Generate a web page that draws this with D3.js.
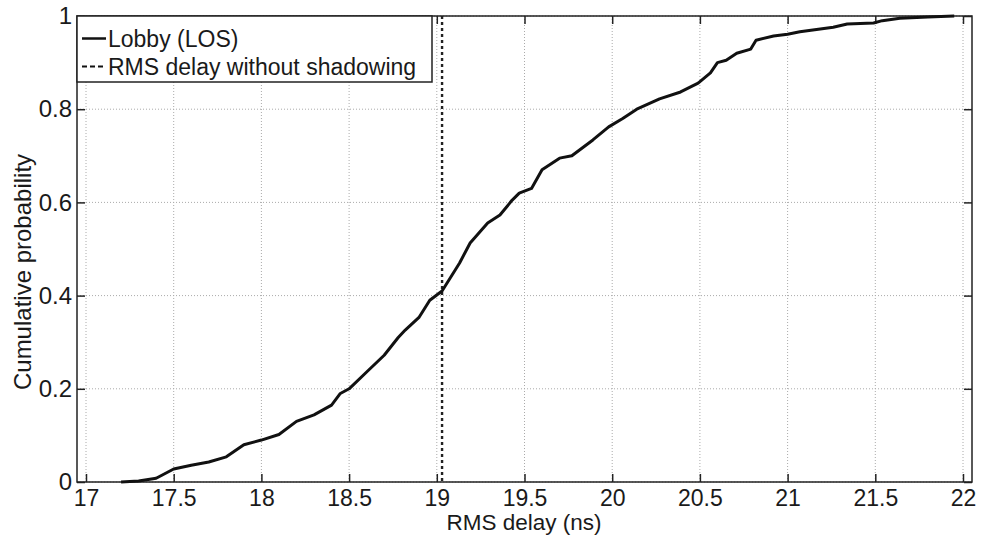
<!DOCTYPE html>
<html>
<head>
<meta charset="utf-8">
<script src="https://cdn.jsdelivr.net/npm/d3@7"></script>
<style>
  body { margin: 0; background: #fff; }
  svg { display: block; font-family: "Liberation Sans", Arial, sans-serif; }
</style>
</head>
<body>
<svg id="chart" width="981" height="535"></svg>
<script>
// CDF of RMS delay, lobby (LOS)
const delayNs = [17.2, 17.3, 17.4, 17.5, 17.6, 17.7, 17.8, 17.9, 18.0, 18.1, 18.2, 18.3, 18.4, 18.45,
  18.5, 18.6, 18.7, 18.78, 18.82, 18.9, 18.96, 19.03, 19.13, 19.19, 19.29, 19.36, 19.43, 19.47,
  19.54, 19.6, 19.7, 19.77, 19.89, 19.98, 20.06, 20.14, 20.27, 20.39, 20.49, 20.56, 20.6, 20.65,
  20.71, 20.79, 20.82, 20.92, 21.0, 21.07, 21.26, 21.34, 21.49, 21.54, 21.64, 21.8, 21.95];
const cumProb = [0, 0.002, 0.008, 0.028, 0.036, 0.043, 0.054, 0.08, 0.09, 0.102, 0.13, 0.144, 0.165, 0.19,
  0.2, 0.236, 0.272, 0.31, 0.326, 0.354, 0.39, 0.41, 0.47, 0.513, 0.556, 0.573, 0.605, 0.62,
  0.63, 0.67, 0.695, 0.70, 0.734, 0.762, 0.78, 0.80, 0.822, 0.837, 0.856, 0.878, 0.9, 0.905,
  0.92, 0.929, 0.948, 0.957, 0.961, 0.966, 0.976, 0.983, 0.985, 0.99, 0.995, 0.998, 1.0];
const noShadowDelay = 19.03;

const xTicks = [17, 17.5, 18, 18.5, 19, 19.5, 20, 20.5, 21, 21.5, 22];
const yTicks = [0, 0.2, 0.4, 0.6, 0.8, 1];
const legendLabels = ["Lobby (LOS)", "RMS delay without shadowing"];

const svg = d3.select("#chart");
const pL = 77, pR = 972, pT = 16, pB = 482;

const x = d3.scaleLinear().domain([17, 22]).range([86, 963]);
const y = d3.scaleLinear().domain([0, 1]).range([pB, pT]);

//grid
const grid = svg.append("g").attr("stroke", "#aaa").attr("stroke-width", 1).attr("stroke-dasharray", "1,2");
xTicks.forEach(t => grid.append("line").attr("x1", x(t)).attr("x2", x(t)).attr("y1", pT).attr("y2", pB));
yTicks.forEach(t => grid.append("line").attr("x1", pL).attr("x2", pR).attr("y1", y(t)).attr("y2", y(t)));

//axes with inward ticks (top/bottom/left/right)
const tl = 8;
const xAx = svg.append("g").attr("transform", `translate(0,${pB})`)
  .call(d3.axisBottom(x).tickValues(xTicks).tickSize(-tl).tickPadding(8).tickFormat(d3.format("")))
  .call(g => g.select(".domain").remove());
svg.append("g").attr("transform", `translate(0,${pT})`)
  .call(d3.axisTop(x).tickValues(xTicks).tickSize(-tl).tickFormat(""))
  .call(g => g.select(".domain").remove());
const yAx = svg.append("g").attr("transform", `translate(${pL},0)`)
  .call(d3.axisLeft(y).tickValues(yTicks).tickSize(-tl).tickPadding(5).tickFormat(d3.format("")))
  .call(g => g.select(".domain").remove());
svg.append("g").attr("transform", `translate(${pR},0)`)
  .call(d3.axisRight(y).tickValues(yTicks).tickSize(-tl).tickFormat(""))
  .call(g => g.select(".domain").remove());

svg.selectAll(".tick line").attr("stroke", "#222").attr("stroke-width", 1.5);
svg.selectAll(".tick text").attr("fill", "#1a1a1a")
  .attr("font-family", "'Liberation Sans', Arial, sans-serif");
xAx.selectAll("text").attr("font-size", 23);
yAx.selectAll("text").attr("font-size", 24);

//frame
svg.append("rect").attr("x", pL).attr("y", pT).attr("width", pR - pL).attr("height", pB - pT)
  .attr("fill", "none").attr("stroke", "#222").attr("stroke-width", 1.5);

//no-shadowing line
svg.append("line").attr("x1", x(noShadowDelay)).attr("x2", x(noShadowDelay))
  .attr("y1", pT).attr("y2", pB)
  .attr("stroke", "#222").attr("stroke-width", 2.4).attr("stroke-dasharray", "3,3");

//cdf curve
const pts = delayNs.map((d, i) => [d, cumProb[i]]);
const line = d3.line().x(d => x(d[0])).y(d => y(d[1]));
svg.append("path").datum(pts).attr("d", line)
  .attr("fill", "none").attr("stroke", "#111").attr("stroke-width", 3).attr("stroke-linejoin", "round");

//legend
const lg = svg.append("g");
lg.append("rect").attr("x", pL).attr("y", pT).attr("width", 355).attr("height", 66)
  .attr("fill", "#fff").attr("stroke", "#222").attr("stroke-width", 1.5);
legendLabels.forEach((lab, i) => {
  const ly = 38.5 + i * 28;
  lg.append("line").attr("x1", 82).attr("x2", 106).attr("y1", ly).attr("y2", ly)
    .attr("stroke", "#111").attr("stroke-width", i == 0 ? 2.5 : 2)
    .attr("stroke-dasharray", i == 0 ? null : "5,3");
  lg.append("text").attr("x", 108).attr("y", ly).attr("dy", "0.35em")
    .attr("font-size", 23).attr("fill", "#1a1a1a").text(lab);
});

//axis labels
svg.append("text").attr("x", 524).attr("y", 530).attr("text-anchor", "middle")
  .attr("font-size", 22.5).attr("fill", "#1a1a1a").text("RMS delay (ns)");
svg.append("text").attr("transform", "translate(31,272) rotate(-90)").attr("text-anchor", "middle")
  .attr("font-size", 24).attr("fill", "#1a1a1a").text("Cumulative probability");
</script>
</body>
</html>
